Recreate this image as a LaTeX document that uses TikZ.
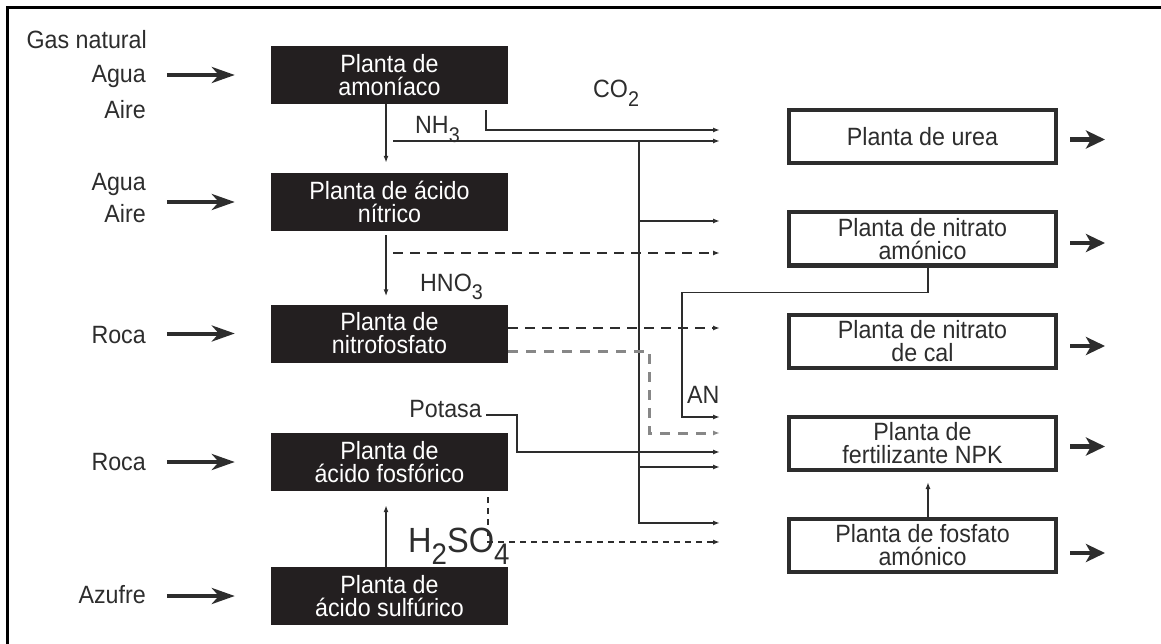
\documentclass[tikz,border=0pt]{standalone}
\usepackage{fontspec}
\setmainfont{Liberation Sans}[FakeStretch=0.93]
\usepackage{graphicx}
\usepackage{tikz}
\usetikzlibrary{arrows.meta, positioning, calc}
\definecolor{plantcolor}{RGB}{35, 31, 32}
\definecolor{linecolor}{RGB}{45, 45, 45}
\definecolor{labelcolor}{RGB}{45, 45, 45}
\definecolor{greylinecolor}{RGB}{135, 135, 135}
\newcommand{\lowsub}[1]{\raisebox{-0.35em}{\scalebox{0.85}{#1}}}
\tikzset{
    % Base styles
    basebox/.style={
        align=center, inner sep=0pt,
        font=\fontsize{25}{23}\selectfont
    },
    % Plant boxes
    darkplant/.style={basebox, fill=plantcolor, text=white,
        minimum width=237pt, minimum height=58pt},
    whiteplant/.style={basebox, draw=linecolor, line width=4pt, text=labelcolor,
        minimum width=267pt, minimum height=53pt},
    % Labels
    inlabel/.style={font=\fontsize{25}{23}\selectfont, text=labelcolor,
        inner sep=0pt, anchor=base east},
    flowlabel/.style={font=\fontsize{25}{23}\selectfont, text=labelcolor,
        inner sep=0pt, anchor=base west},
    % Arrows
    bigarrow/.style={-{Stealth[length=23pt, width=16pt, inset=7pt]}, line width=4pt, linecolor},
    outarrow/.style={-{Stealth[length=19pt, width=18pt, inset=5pt]}, line width=4.5pt, linecolor},
    flowarrow/.style={-{Latex[length=7pt, width=5pt]}, line width=1.5pt, linecolor},
    dashflow/.style={flowarrow, dash pattern=on 10pt off 7pt},
    greydash/.style={flowarrow, line width=3pt, greylinecolor, dash pattern=on 10pt off 8pt},
    acidflow/.style={flowarrow, dash pattern=on 6pt off 5pt},
}
\begin{document}
\begin{tikzpicture}[x=1pt, y=-1pt]
\useasboundingbox (0,0) rectangle (1161,644);

% Frame
\draw[line width=3pt, black] (7,644) -- (7,8) -- (1161,8);

% Plants, left column
\node[darkplant] (amoniaco) at (389.5,75) {Planta de\\amoníaco};
\node[darkplant] (nitrico) at (389.5,202) {Planta de ácido\\nítrico};
\node[darkplant] (nitrofosfato) at (389.5,333.5) {Planta de\\nitrofosfato};
\node[darkplant] (fosforico) at (389.5,462) {Planta de\\ácido fosfórico};
\node[darkplant] (sulfurico) at (389.5,596) {Planta de\\ácido sulfúrico};

% Plants, right column
\node[whiteplant] (urea) at (922.5,136.5) {Planta de urea};
\node[whiteplant] (nitamonico) at (922.5,239) {Planta de nitrato\\amónico};
\node[whiteplant] (nitcal) at (922.5,341) {Planta de nitrato\\de cal};
\node[whiteplant] (npk) at (922.5,443.5) {Planta de\\fertilizante NPK};
\node[whiteplant] (fosamonico) at (922.5,545) {Planta de fosfato\\amónico};

% Raw materials
\node[inlabel] (gas) at (147,49) {Gas natural};
\node[inlabel] (agua1) at (146,83) {Agua};
\node[inlabel] (aire1) at (146,119) {Aire};
\node[inlabel] (agua2) at (146,191) {Agua};
\node[inlabel] (aire2) at (146,223) {Aire};
\node[inlabel] (roca1) at (146,343) {Roca};
\node[inlabel] (roca2) at (146,470) {Roca};
\node[inlabel] (azufre) at (146,603) {Azufre};

% Flow labels
\node[flowlabel] (co2) at (593,98) {CO\lowsub{2}};
\node[flowlabel] (nh3) at (415,134) {NH\lowsub{3}};
\node[flowlabel] (hno3) at (420,291) {HNO\lowsub{3}};
\node[flowlabel] (an) at (687,403) {AN};
\node[inlabel] (potasa) at (482,417) {Potasa};
\node[flowlabel, font=\fontsize{35}{35}\selectfont] (h2so4) at (408,552) {H\lowsub{2}SO\lowsub{4}};

% Feed ends
\coordinate (co2in) at (720,130);
\coordinate (nh3start) at (393,141);
\coordinate (nh3in) at (720,141);
\coordinate (nh3split) at (639,141);
\coordinate (amin) at (720,221);
\coordinate (hno3start) at (393,253);
\coordinate (hno3in) at (720,253);
\coordinate (calin) at (720,328);
\coordinate (anin) at (720,417);
\coordinate (npkdash) at (720,433);
\coordinate (kin) at (720,452);
\coordinate (npknh3) at (720,467);
\coordinate (dapnh3) at (720,523);
\coordinate (dapacid) at (720,542);

% Input arrows
\draw[bigarrow] ([xshift=-104pt]amoniaco.west) -- ([xshift=-36pt]amoniaco.west);
\draw[bigarrow] ([xshift=-104pt]nitrico.west) -- ([xshift=-36pt]nitrico.west);
\draw[bigarrow] ([xshift=-104pt]nitrofosfato.west) -- ([xshift=-36pt]nitrofosfato.west);
\draw[bigarrow] ([xshift=-104pt]fosforico.west) -- ([xshift=-36pt]fosforico.west);
\draw[bigarrow] ([xshift=-104pt]sulfurico.west) -- ([xshift=-36pt]sulfurico.west);

% Output arrows
\draw[outarrow] ([xshift=12pt,yshift=-3pt]urea.east) -- ++(35,0);
\draw[outarrow] ([xshift=12pt,yshift=-4pt]nitamonico.east) -- ++(35,0);
\draw[outarrow] ([xshift=12pt,yshift=-5pt]nitcal.east) -- ++(35,0);
\draw[outarrow] ([xshift=12pt,yshift=-3pt]npk.east) -- ++(35,0);
\draw[outarrow] ([xshift=12pt,yshift=-8pt]fosamonico.east) -- ++(35,0);

% Between left plants
\draw[flowarrow] ([xshift=-3.5pt]amoniaco.south) -- ([xshift=-3.5pt,yshift=10pt]nitrico.north);
\draw[flowarrow] ([xshift=-3.5pt,yshift=-4pt]nitrico.south) -- ([xshift=-3.5pt,yshift=8pt]nitrofosfato.north);
\draw[flowarrow] ([xshift=-3.5pt]sulfurico.north) -- ([xshift=-3.5pt,yshift=-14pt]fosforico.south);

% Intermediate streams
\draw[flowarrow] ([xshift=-22pt,yshift=-6pt]amoniaco.south east) |- (co2in);
\draw[flowarrow] (nh3start) -- (nh3in);
\draw[flowarrow] (nh3split) |- (dapnh3);
\draw[flowarrow] (nh3split |- amin) -- (amin);
\draw[flowarrow] (nh3split |- npknh3) -- (npknh3);
\draw[dashflow] (hno3start) -- (hno3in);
\draw[dashflow] ([yshift=5.5pt]nitrofosfato.east) -- (calin);
\draw[greydash] ([yshift=-17.5pt]nitrofosfato.east) -| ([xshift=-71pt]npkdash) -- (npkdash);
\draw[flowarrow] ([xshift=5.5pt]nitamonico.south) -- ++(0,25) -| ([xshift=-38pt]anin) -- (anin);
\draw[flowarrow] ([xshift=4pt,yshift=2pt]potasa.base east) -| ([xshift=-203pt]kin) -- (kin);
\draw[acidflow] ([xshift=-20pt,yshift=-6pt]fosforico.south east) |- (dapacid);
\draw[flowarrow] ([xshift=5.5pt]fosamonico.north) -- ([xshift=5.5pt,yshift=-10pt]npk.south);

\end{tikzpicture}
\end{document}
